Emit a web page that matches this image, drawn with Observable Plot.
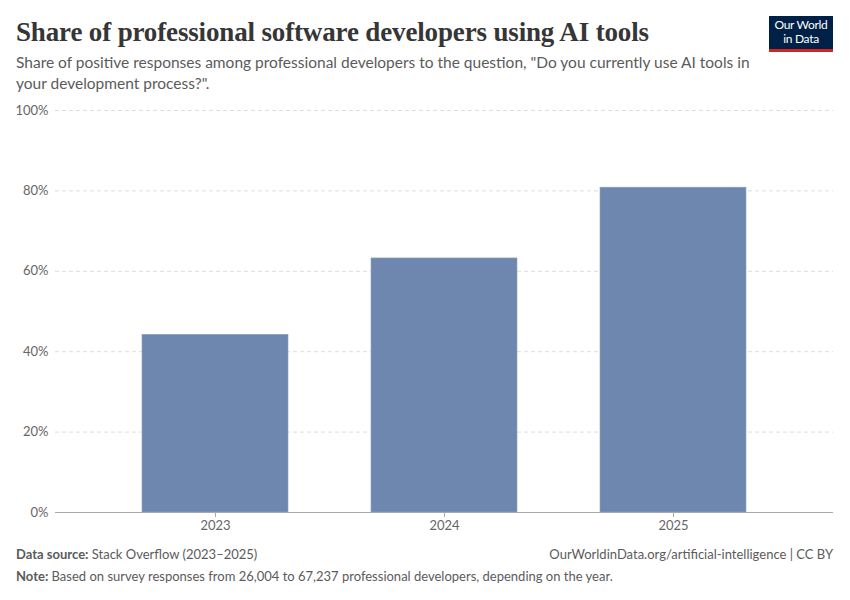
<!DOCTYPE html>
<html>
<head>
<meta charset="utf-8">
<script src="https://cdn.jsdelivr.net/npm/d3@7"></script>
<script src="https://cdn.jsdelivr.net/npm/@observablehq/plot@0.6"></script>
<style>
  html, body { margin: 0; padding: 0; background: #fff; }
  #wrap { position: relative; width: 850px; height: 600px; font-family: Lato, "Noto Sans", sans-serif; }
  #title { position: absolute; left: 16px; top: 17px; margin: 0; font-family: "Liberation Serif", "DejaVu Serif", serif; font-weight: 700; font-size: 27px; line-height: 30px; color: #363636; letter-spacing: -0.15px; white-space: nowrap; }
  #subtitle { position: absolute; left: 16px; top: 52px; width: 740px; margin: 0; font-size: 15.5px; line-height: 21px; color: #5b5b5b; }
  #logo { position: absolute; left: 769px; top: 16px; width: 64px; height: 31px; padding-top: 2px; background: #002147; border-bottom: 3px solid #ce261e; color: #fff; font-size: 12px; line-height: 14px; text-align: center; letter-spacing: -0.3px; box-sizing: content-box; }
  #chart { position: absolute; left: 0; top: 100px; }
  .foot { position: absolute; font-size: 13px; color: #5b5b5b; white-space: nowrap; }
  .foot b { font-weight: 700; color: #5b5b5b; }
</style>
</head>
<body>
<div id="wrap">
  <h1 id="title">Share of professional software developers using AI tools</h1>
  <p id="subtitle">Share of positive responses among professional developers to the question, "Do you currently use AI tools in your development process?".</p>
  <div id="logo">Our World<br>in Data</div>
  <div id="chart"></div>
  <div class="foot" style="left:16px; top:546px;"><b>Data source:</b> Stack Overflow (2023–2025)</div>
  <div class="foot" style="right:17px; top:546px;">OurWorldinData.org/artificial-intelligence | CC BY</div>
  <div class="foot" style="left:16px; top:568px;"><b>Note:</b> Based on survey responses from 26,004 to 67,237 professional developers, depending on the year.</div>
</div>
<script>
const years = ["2023", "2024", "2025"];
const shares = [44.2, 63.2, 80.8];
const yTicks = [0, 20, 40, 60, 80, 100];

const data = years.map((y, i) => ({year: y, share: shares[i]}));

const chart = Plot.plot({
  width: 850,
  height: 435,
  marginTop: 10,
  marginBottom: 23,
  marginLeft: 55,
  marginRight: 17,
  style: {fontFamily: "Lato, sans-serif", fontSize: "13px", color: "#666", background: "#fff"},
  x: {domain: years, paddingInner: 0.364, paddingOuter: 0.377, label: null},
  y: {domain: [0, 100], label: null},
  marks: [
    Plot.gridY(yTicks.filter(d => d > 0), {stroke: "#ddd", strokeOpacity: 1, strokeDasharray: "4,3"}),
    Plot.barY(data, {x: "year", y: "share", fill: "#6e87af", stroke: "#8da0c2", strokeWidth: 0.6}),
    Plot.ruleY([0], {stroke: "#aaa", strokeWidth: 1}),
    Plot.axisY({ticks: yTicks, tickFormat: d => d + "%", tickSize: 0, tickPadding: 7, fill: "#666", fontSize: 13}),
    Plot.axisX({tickSize: 5, tickPadding: 3, stroke: "#aaa", fill: "#666", fontSize: 13})
  ]
});
document.getElementById("chart").appendChild(chart);
</script>
</body>
</html>
